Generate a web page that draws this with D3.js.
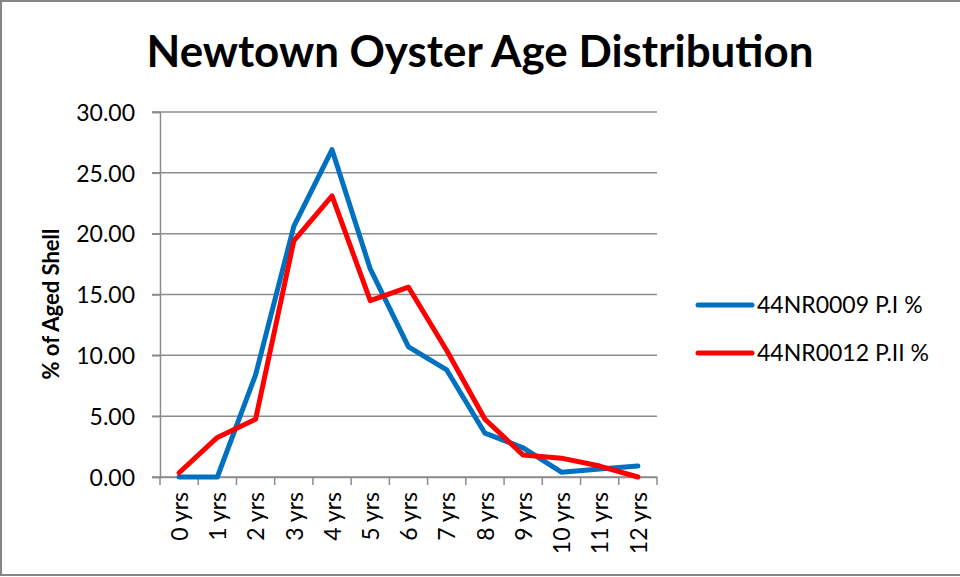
<!DOCTYPE html>
<html>
<head>
<meta charset="utf-8">
<script src="https://cdn.jsdelivr.net/npm/d3@7"></script>
<style>
  body { margin: 0; background: #fff; }
  text { font-family: Lato, "Open Sans", sans-serif; fill: #000; }
</style>
</head>
<body>
<div id="chart"></div>
<script>
const categories = ["0 yrs", "1 yrs", "2 yrs", "3 yrs", "4 yrs", "5 yrs", "6 yrs",
  "7 yrs", "8 yrs", "9 yrs", "10 yrs", "11 yrs", "12 yrs"];
const series_names = ["44NR0009 P.I %", "44NR0012 P.II %"];
const series_pi = [0, 0, 8.4, 20.6, 26.9, 17.1, 10.7, 8.8, 3.6, 2.4, 0.4, 0.65, 0.9];
const series_pii = [0.35, 3.25, 4.75, 19.4, 23.1, 14.5, 15.6, 10.4, 4.75, 1.8, 1.55, 0.9, 0];
const y_ticks = [0, 5, 10, 15, 20, 25, 30];
const series_colors = ["#0070c0", "#ff0000"];

const svg_width = 960;
const svg_height = 577;
const margins = [112, 303, 100, 160]; //top, right, bottom, left

const svg = d3
  .select("#chart")
  .append("svg")
  .attr("width", svg_width)
  .attr("height", svg_height)
  .style("display", "block");

const [margin_top, margin_right, margin_bottom, margin_left] = margins;
const plot_bottom = svg_height - margin_bottom;
const plot_right = svg_width - margin_right;

// outer frame
svg
  .append("rect")
  .attr("x", 1)
  .attr("y", 1)
  .attr("width", svg_width + 10)
  .attr("height", svg_height - 3)
  .attr("fill", "none")
  .attr("stroke", "#868686")
  .attr("stroke-width", 2);

const x_axis = d3
  .scaleBand()
  .domain(categories)
  .range([margin_left, plot_right]);

const y_axis = d3
  .scaleLinear()
  .domain([0, 30])
  .range([plot_bottom, margin_top]);

// gridlines
svg
  .append("g")
  .selectAll("line")
  .data(y_ticks)
  .join("line")
  .attr("x1", margin_left - 8)
  .attr("x2", plot_right)
  .attr("y1", (d) => y_axis(d))
  .attr("y2", (d) => y_axis(d))
  .attr("stroke", "#8c8c8c")
  .attr("stroke-width", 1.5);

// y axis
const y_g = svg
  .append("g")
  .attr("transform", `translate(${margin_left},0)`)
  .call(
    d3
      .axisLeft(y_axis)
      .tickValues(y_ticks)
      .tickSize(8)
      .tickPadding(17)
      .tickFormat(d3.format(".2f"))
  );
y_g.select(".domain").attr("stroke", "#8c8c8c").attr("stroke-width", 1.5);
y_g.selectAll(".tick line").attr("stroke", "#8c8c8c").attr("stroke-width", 1.5);
y_g.selectAll(".tick text").style("font-size", "23px").attr("dy", "0.36em");

// x axis
const x_g = svg
  .append("g")
  .attr("transform", `translate(0,${plot_bottom})`)
  .call(d3.axisBottom(x_axis).tickSize(0).tickSizeOuter(0));
x_g.select(".domain").attr("stroke", "#8c8c8c").attr("stroke-width", 1.5);
x_g
  .selectAll(".tick text")
  .style("font-size", "23px")
  .attr("text-anchor", "end")
  .attr("transform", "rotate(-90)")
  .attr("x", -15)
  .attr("y", 0)
  .attr("dy", "0.38em");

// category boundary ticks
svg
  .append("g")
  .selectAll("line")
  .data(categories.concat([null]))
  .join("line")
  .attr("x1", (d, i) => margin_left + i * x_axis.step())
  .attr("x2", (d, i) => margin_left + i * x_axis.step())
  .attr("y1", plot_bottom)
  .attr("y2", plot_bottom + 8)
  .attr("stroke", "#8c8c8c")
  .attr("stroke-width", 1.5);

// lines
const line = d3
  .line()
  .x((d, i) => x_axis(categories[i]) + x_axis.bandwidth() / 2)
  .y((d) => y_axis(d));

[series_pi, series_pii].forEach((values, i) => {
  svg
    .append("path")
    .datum(values)
    .attr("fill", "none")
    .attr("stroke", series_colors[i])
    .attr("stroke-width", 5)
    .attr("stroke-linejoin", "round")
    .attr("stroke-linecap", "round")
    .attr("d", line);
});

// title
svg
  .append("text")
  .attr("x", 480)
  .attr("y", 67)
  .attr("text-anchor", "middle")
  .attr("textLength", 667)
  .attr("lengthAdjust", "spacingAndGlyphs")
  .style("font-size", "43px")
  .style("font-weight", "bold")
  .text("Newtown Oyster Age Distribution");

// y label
svg
  .append("text")
  .attr("transform", "translate(59,304) rotate(-90)")
  .attr("text-anchor", "middle")
  .style("font-size", "22px")
  .style("font-weight", "bold")
  .text("% of Aged Shell");

// legend
const legend = svg
  .append("g")
  .selectAll("g")
  .data(series_names)
  .join("g")
  .attr("transform", (d, i) => `translate(698,${305 + i * 48})`);
legend
  .append("line")
  .attr("x1", 0)
  .attr("x2", 54)
  .attr("stroke", (d, i) => series_colors[i])
  .attr("stroke-width", 5)
  .attr("stroke-linecap", "round");
legend
  .append("text")
  .attr("x", 59)
  .attr("dy", "0.36em")
  .style("font-size", "23px")
  .text((d) => d);
</script>
</body>
</html>
